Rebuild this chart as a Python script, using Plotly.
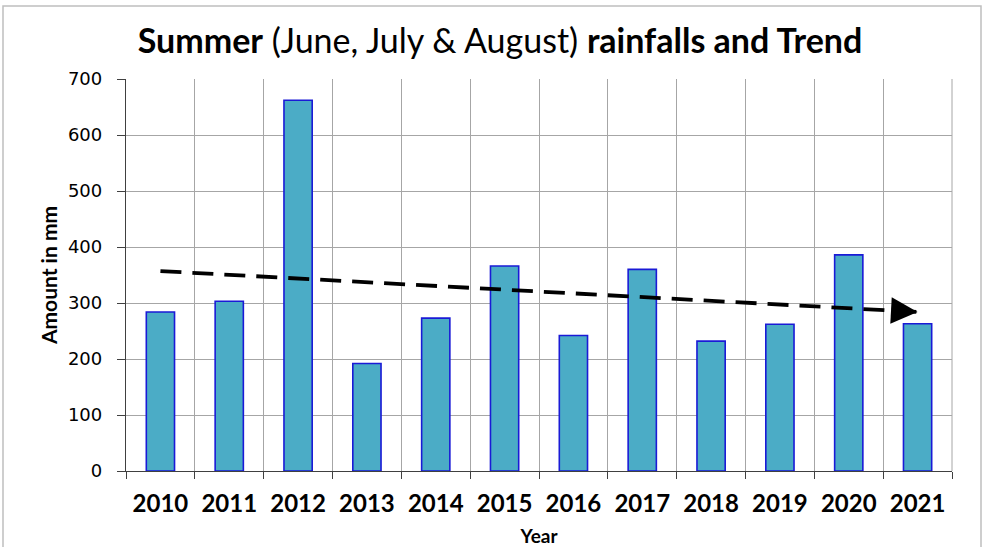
import plotly.graph_objects as go

years = [2010, 2011, 2012, 2013, 2014, 2015, 2016, 2017, 2018, 2019, 2020, 2021]
rainfall_mm = [284, 303, 662, 192, 273, 366, 242, 360, 232, 262, 386, 263]
trend_years = [2010, 2021]
trend_mm = [357, 284]
y_ticks = [0, 100, 200, 300, 400, 500, 600, 700]
year_labels = [str(y) for y in years]

W, H = 986, 547
ml, mr, mt, mb = 126, 34, 79, 76
pw, ph = W - ml - mr, H - mt - mb

narrow = "Lato, Roboto, sans-serif"
wide = "DejaVu Sans, Verdana, sans-serif"

fig = go.Figure()
fig.add_trace(go.Bar(
    x=years, y=rainfall_mm, width=0.41,
    marker=dict(color="#4BACC6", line=dict(color="#1A1AD6", width=1.6)),
    showlegend=False,
))
fig.add_trace(go.Scatter(
    x=trend_years, y=trend_mm, mode="lines",
    line=dict(color="black", width=3.8, dash="21px,11px"),
    showlegend=False,
))
# arrowhead at the end of the trend line
slope = (trend_mm[1] - trend_mm[0]) / (trend_years[1] - trend_years[0])
fig.add_annotation(
    x=trend_years[1], y=trend_mm[1],
    ax=trend_years[1] - 0.3, ay=trend_mm[1] - slope * 0.3,
    xref="x", yref="y", axref="x", ayref="y",
    text="", showarrow=True, arrowhead=2, arrowsize=1.4, arrowwidth=3.8,
    arrowcolor="black",
)

fig.update_layout(
    width=W, height=H,
    margin=dict(l=ml, r=mr, t=mt, b=mb),
    paper_bgcolor="white", plot_bgcolor="white",
    title=dict(
        text="<b>Summer</b> (June, July &amp; August) <b>rainfalls and Trend</b>",
        x=500 / W, xanchor="center", y=1 - 41 / H, yanchor="middle",
        font=dict(family=narrow, size=34, color="black"),
    ),
    xaxis=dict(
        range=[years[0] - 0.5, years[-1] + 0.5], automargin=False,
        tickmode="array", tickvals=years, ticktext=["<b>%s</b>" % t for t in year_labels],
        ticks="", showgrid=False, zeroline=False,
        showline=True, linecolor="#404040", linewidth=1.3,
        tickfont=dict(family=narrow, size=24, color="black"),
        ticklabelstandoff=11,
        minor=dict(tick0=years[0] - 0.5, dtick=1, ticks="outside", ticklen=7,
                   tickcolor="#404040", showgrid=True, gridcolor="#A6A6A6", gridwidth=1),
        title=dict(text="<b>Year</b>", font=dict(family=narrow, size=19, color="black"), standoff=15),
    ),
    yaxis=dict(
        range=[0, 700], tickmode="array", tickvals=y_ticks, automargin=False,
        ticks="outside", ticklen=8, tickcolor="#404040",
        ticklabelstandoff=11,
        showgrid=True, gridcolor="#A6A6A6", gridwidth=1, zeroline=False,
        showline=True, linecolor="#404040", linewidth=1.3,
        tickfont=dict(family=wide, size=18, color="black"),
        title=dict(text="<b>Amount in mm</b>", font=dict(family=narrow, size=21, color="black"), standoff=4),
    ),
)
# right edge of plot area
fig.add_shape(type="line", xref="paper", yref="paper", x0=1, x1=1, y0=0, y1=1,
              line=dict(color="#A6A6A6", width=1))
# chart frame border
fig.add_shape(type="rect", xref="paper", yref="paper",
              x0=(3 - ml) / pw, x1=(981 - ml) / pw,
              y0=-(mb + 20) / ph, y1=(H - mb - 6) / ph,
              line=dict(color="#BFBFBF", width=1.5), fillcolor="rgba(0,0,0,0)", layer="below")

fig.write_html("out.html")
